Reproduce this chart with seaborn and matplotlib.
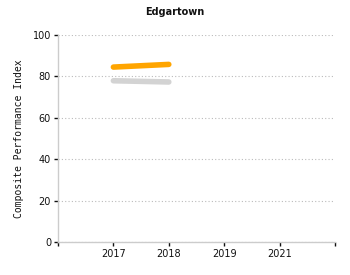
import matplotlib
matplotlib.use("Agg")
import matplotlib.pyplot as plt
import seaborn as sns
import pandas as pd

years = ["2017", "2018", "2019", "2021"]
series_a_years = ["2017", "2018"]
series_a_values = [84.5, 85.8]
series_b_years = ["2017", "2018"]
series_b_values = [77.9, 77.3]
y_ticks = [0, 20, 40, 60, 80, 100]

sns.set_theme(style="white")
plt.rcParams['font.family'] = ['DejaVu Sans']
plt.rcParams['text.color'] = '#111111'
plt.rcParams['xtick.color'] = '#111111'
plt.rcParams['ytick.color'] = '#111111'

pos = {y: i + 1 for i, y in enumerate(years)}
df = pd.DataFrame({
    "x": [pos[y] for y in series_a_years] + [pos[y] for y in series_b_years],
    "v": series_a_values + series_b_values,
    "s": ["A"] * len(series_a_values) + ["B"] * len(series_b_values),
})

fig = plt.figure(figsize=(3.5, 2.75), dpi=100)
ax = fig.add_axes([58/350, 33/275, (335-58)/350, (242-35)/275])
sns.lineplot(data=df, x="x", y="v", hue="s", palette={"A": "#FFA500", "B": "#D3D3D3"},
             linewidth=4, ax=ax, legend=False, solid_capstyle="round")

ax.set_xlim(0, len(years) + 1)
ax.set_ylim(0, 100)
ax.set_xticks(range(0, len(years) + 2))
ax.set_xticklabels([""] + years + [""], fontsize=7)
ax.set_yticks(y_ticks)
ax.set_yticklabels([str(t) for t in y_ticks], fontsize=7)
ax.yaxis.grid(True, linestyle=(0, (1, 2)), color="#BBBBBB", linewidth=0.8)
ax.xaxis.grid(False)
for s in ["top", "right"]:
    ax.spines[s].set_visible(False)
for s in ["left", "bottom"]:
    ax.spines[s].set_color("#CCCCCC")
    ax.spines[s].set_linewidth(1)
ax.tick_params(axis="both", bottom=True, left=True, length=3, width=1,
               color="#111111", pad=2, direction="out")
ax.set_xlabel("")
ax.set_ylabel("Composite Performance Index", fontsize=7, family="DejaVu Sans Mono",
              labelpad=6, color="#111111")
fig.text(0.5, 1 - 12/275, "Edgartown", fontsize=7, fontweight="bold",
         ha="center", va="center", color="#111111")
fig.savefig("out.png", dpi=100)
